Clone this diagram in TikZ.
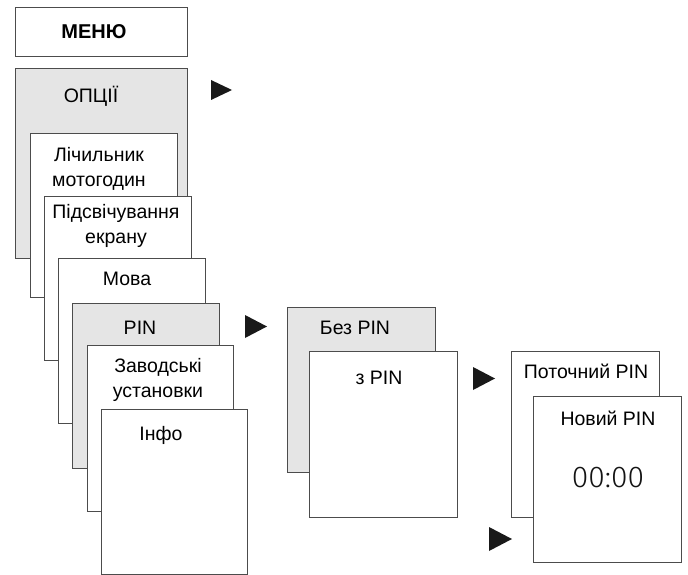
\documentclass[tikz,border=0pt]{standalone}
\usepackage{fontspec}
\setmainfont{Liberation Sans}
\newfontfamily\lightdigits{Fira Sans Light}
\begin{document}
\begin{tikzpicture}[x=1pt,y=-1pt,
  panel/.style={draw=black!70,line width=0.9pt,fill=white,anchor=north west,inner sep=0pt,outer sep=0pt},
  graypanel/.style={panel,fill=black!10},
  label/.style={inner sep=0pt,anchor=base,font=\fontsize{19.5}{24.5}\selectfont,align=center},
  pointer/.style={fill=black!90,draw=none}]
\useasboundingbox (0,0) rectangle (688,575);

% main menu header
\node[panel,minimum width=172pt,minimum height=49pt] (menu) at (15,7) {};
\node[label,font=\fontsize{20}{24}\selectfont\bfseries] (menutxt) at (94,39) {МЕНЮ};

% stacked option screens (two-line labels are placed by their last baseline)
\node[graypanel,minimum width=172pt,minimum height=190pt] (opts) at (15,68) {};
\node[label] (optstxt) at (91,103) {ОПЦІЇ};
\node[panel,minimum width=147pt,minimum height=164pt] (counter) at (30,133) {};
\node[label] (countertxt) at (99,186) {Лічильник\\мотогодин};
\node[panel,minimum width=147pt,minimum height=164pt] (backlight) at (44,196) {};
\node[label] (backlighttxt) at (116,243) {Підсвічування\\екрану};
\node[panel,minimum width=147pt,minimum height=165pt] (lang) at (58,258) {};
\node[label] (langtxt) at (127,285) {Мова};
\node[graypanel,minimum width=147pt,minimum height=165pt] (pin) at (72,303) {};
\node[label] (pintxt) at (140,334) {PIN};
\node[panel,minimum width=146pt,minimum height=166pt] (factory) at (87,345) {};
\node[label] (factorytxt) at (158,397) {Заводські\\установки};
\node[panel,minimum width=146pt,minimum height=165pt] (info) at (101,409) {};
\node[label] (infotxt) at (161,440) {Інфо};

% PIN mode screens
\node[graypanel,minimum width=148pt,minimum height=165pt] (nopin) at (287,307) {};
\node[label] (nopintxt) at (355,334) {Без PIN};
\node[panel,minimum width=148pt,minimum height=166pt] (withpin) at (309,351) {};
\node[label] (withpintxt) at (379,384) {з PIN};

% PIN entry screens
\node[panel,minimum width=148pt,minimum height=166pt] (curpin) at (511,351) {};
\node[label] (curpintxt) at (586,378) {Поточний PIN};
\node[panel,minimum width=148pt,minimum height=166pt] (newpin) at (533,396) {};
\node[label] (newpintxt) at (608,425) {Новий PIN};
\node[label,font=\fontsize{30}{30}\lightdigits,text=black!92] (clock) at (608,487) {00:00};

% navigation pointers
\fill[pointer] (211,80) -- (211,100) -- (232,90) -- cycle;
\fill[pointer] (245,315) -- (245,338) -- (267,326.5) -- cycle;
\fill[pointer] (473,367) -- (473,390) -- (495,378.5) -- cycle;
\fill[pointer] (489,527) -- (489,551) -- (512,539) -- cycle;
\end{tikzpicture}
\end{document}
